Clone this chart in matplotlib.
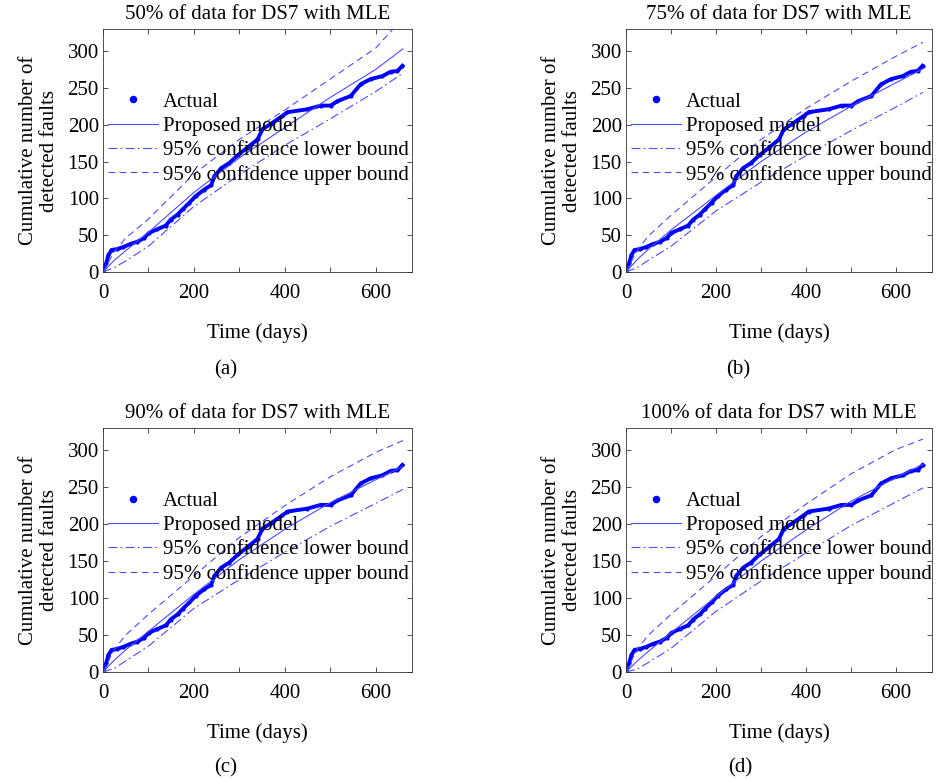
import matplotlib
matplotlib.use("Agg")
from matplotlib import pyplot as plt
from matplotlib.ticker import MultipleLocator

plt.rcParams['font.family'] = ['Liberation Serif', 'DejaVu Serif']
plt.rcParams['font.size'] = 15

# Actual cumulative faults of DS7
t_actual = [0, 1, 7, 12, 19, 30, 45, 60, 75, 90, 101, 119, 138, 149, 164, 175, 190,
            204, 223, 238, 245, 260, 278, 297, 318, 340, 351, 369, 395, 406, 450,
            479, 501, 516, 545, 567, 589, 615, 633, 648, 659]
y_actual = [0, 3, 12, 23, 30, 31, 34, 38, 41, 46, 53, 58, 63, 71, 78, 85, 94,
            103, 112, 118, 130, 141, 148, 159, 169, 180, 194, 201, 212, 217, 221,
            226, 226, 232, 239, 255, 262, 266, 272, 273, 280]

# model curves and 95% bounds, same time grid for every panel
t_model = [0, 25, 50, 100, 200, 300, 400, 500, 600, 660]

titles = ['50% of data for DS7 with MLE', '75% of data for DS7 with MLE',
          '90% of data for DS7 with MLE', '100% of data for DS7 with MLE']
captions = ['(a)', '(b)', '(c)', '(d)']

model = [[0, 16, 29, 54, 108, 155, 196, 237, 275, 303],
         [0, 17, 31, 57, 104, 150, 190, 225, 257, 276],
         [0, 16, 30, 55, 105, 152, 193, 229, 260, 278],
         [0, 15, 28, 53, 102, 150, 192, 231, 263, 281]]
upper = [[0, 28, 46, 72, 133, 180, 220, 262, 304, 345],
         [0, 30, 49, 77, 129, 180, 222, 259, 293, 312],
         [0, 31, 50, 78, 130, 182, 225, 264, 297, 313],
         [0, 31, 50, 78, 130, 183, 227, 268, 301, 315]]
lower = [[0, 6, 15, 35, 89, 132, 172, 208, 245, 270],
         [0, 6, 16, 35, 83, 122, 158, 192, 224, 244],
         [0, 5, 15, 35, 86, 125, 162, 197, 228, 247],
         [0, 4, 13, 32, 82, 123, 161, 198, 230, 249]]

fig = plt.figure(figsize=(9.36, 7.8), dpi=100)

# axes boxes in pixels: left, top, right, bottom
boxes = [(103, 29, 412, 272), (626, 29, 932, 272),
         (103, 428, 412, 672), (626, 428, 932, 672)]
caption_pos = [(226, 370), (738, 370), (226, 768), (740, 768)]

W, H = 936.0, 780.0
line_col = '#4a4aff'

for i in range(4):
    l, t, r, b = boxes[i]
    ax = fig.add_axes([l / W, 1 - b / H, (r - l) / W, (b - t) / H])

    ax.plot(t_actual, y_actual, '-', color='#0000ff', lw=2.8)
    ax.plot(t_actual, y_actual, '.', color='#0000ff', ms=4, label='Actual')
    ax.plot(t_model, model[i], '-', color=line_col, lw=0.8, label='Proposed model')
    ax.plot(t_model, lower[i], '-.', color=line_col, lw=0.8, dashes=(8, 3, 1.5, 3),
            label='95% confidence lower bound')
    ax.plot(t_model, upper[i], '--', color=line_col, lw=0.8, dashes=(6, 4),
            label='95% confidence upper bound')

    ax.set_xlim(0, 680)
    ax.set_ylim(0, 330)
    ax.xaxis.set_major_locator(MultipleLocator(200))
    ax.xaxis.set_minor_locator(MultipleLocator(100))
    ax.yaxis.set_major_locator(MultipleLocator(50))
    ax.tick_params(which='both', direction='in', top=True, right=True,
                   length=3.5, width=0.6, color='#333333')
    ax.tick_params(axis='x', pad=9)
    ax.tick_params(axis='y', pad=3)
    for s in ax.spines.values():
        s.set_linewidth(0.6)
        s.set_color('#333333')

    ax.set_title(titles[i], pad=7, fontsize=15)
    ax.set_xlabel('Time (days)', labelpad=14)
    ax.set_ylabel('Cumulative number of\ndetected faults', labelpad=6,
                  linespacing=1.15)

    leg = ax.legend(loc='upper left', bbox_to_anchor=(0.015, 0.74), frameon=False,
                    borderpad=0, borderaxespad=0, handlelength=2.4,
                    handletextpad=0.25, labelspacing=0.22, fontsize=15,
                    markerscale=2.2)

    cx, cy = caption_pos[i]
    fig.text(cx / W, 1 - cy / H, captions[i], ha='center', va='center', fontsize=15)

plt.savefig('out.png', dpi=100)
